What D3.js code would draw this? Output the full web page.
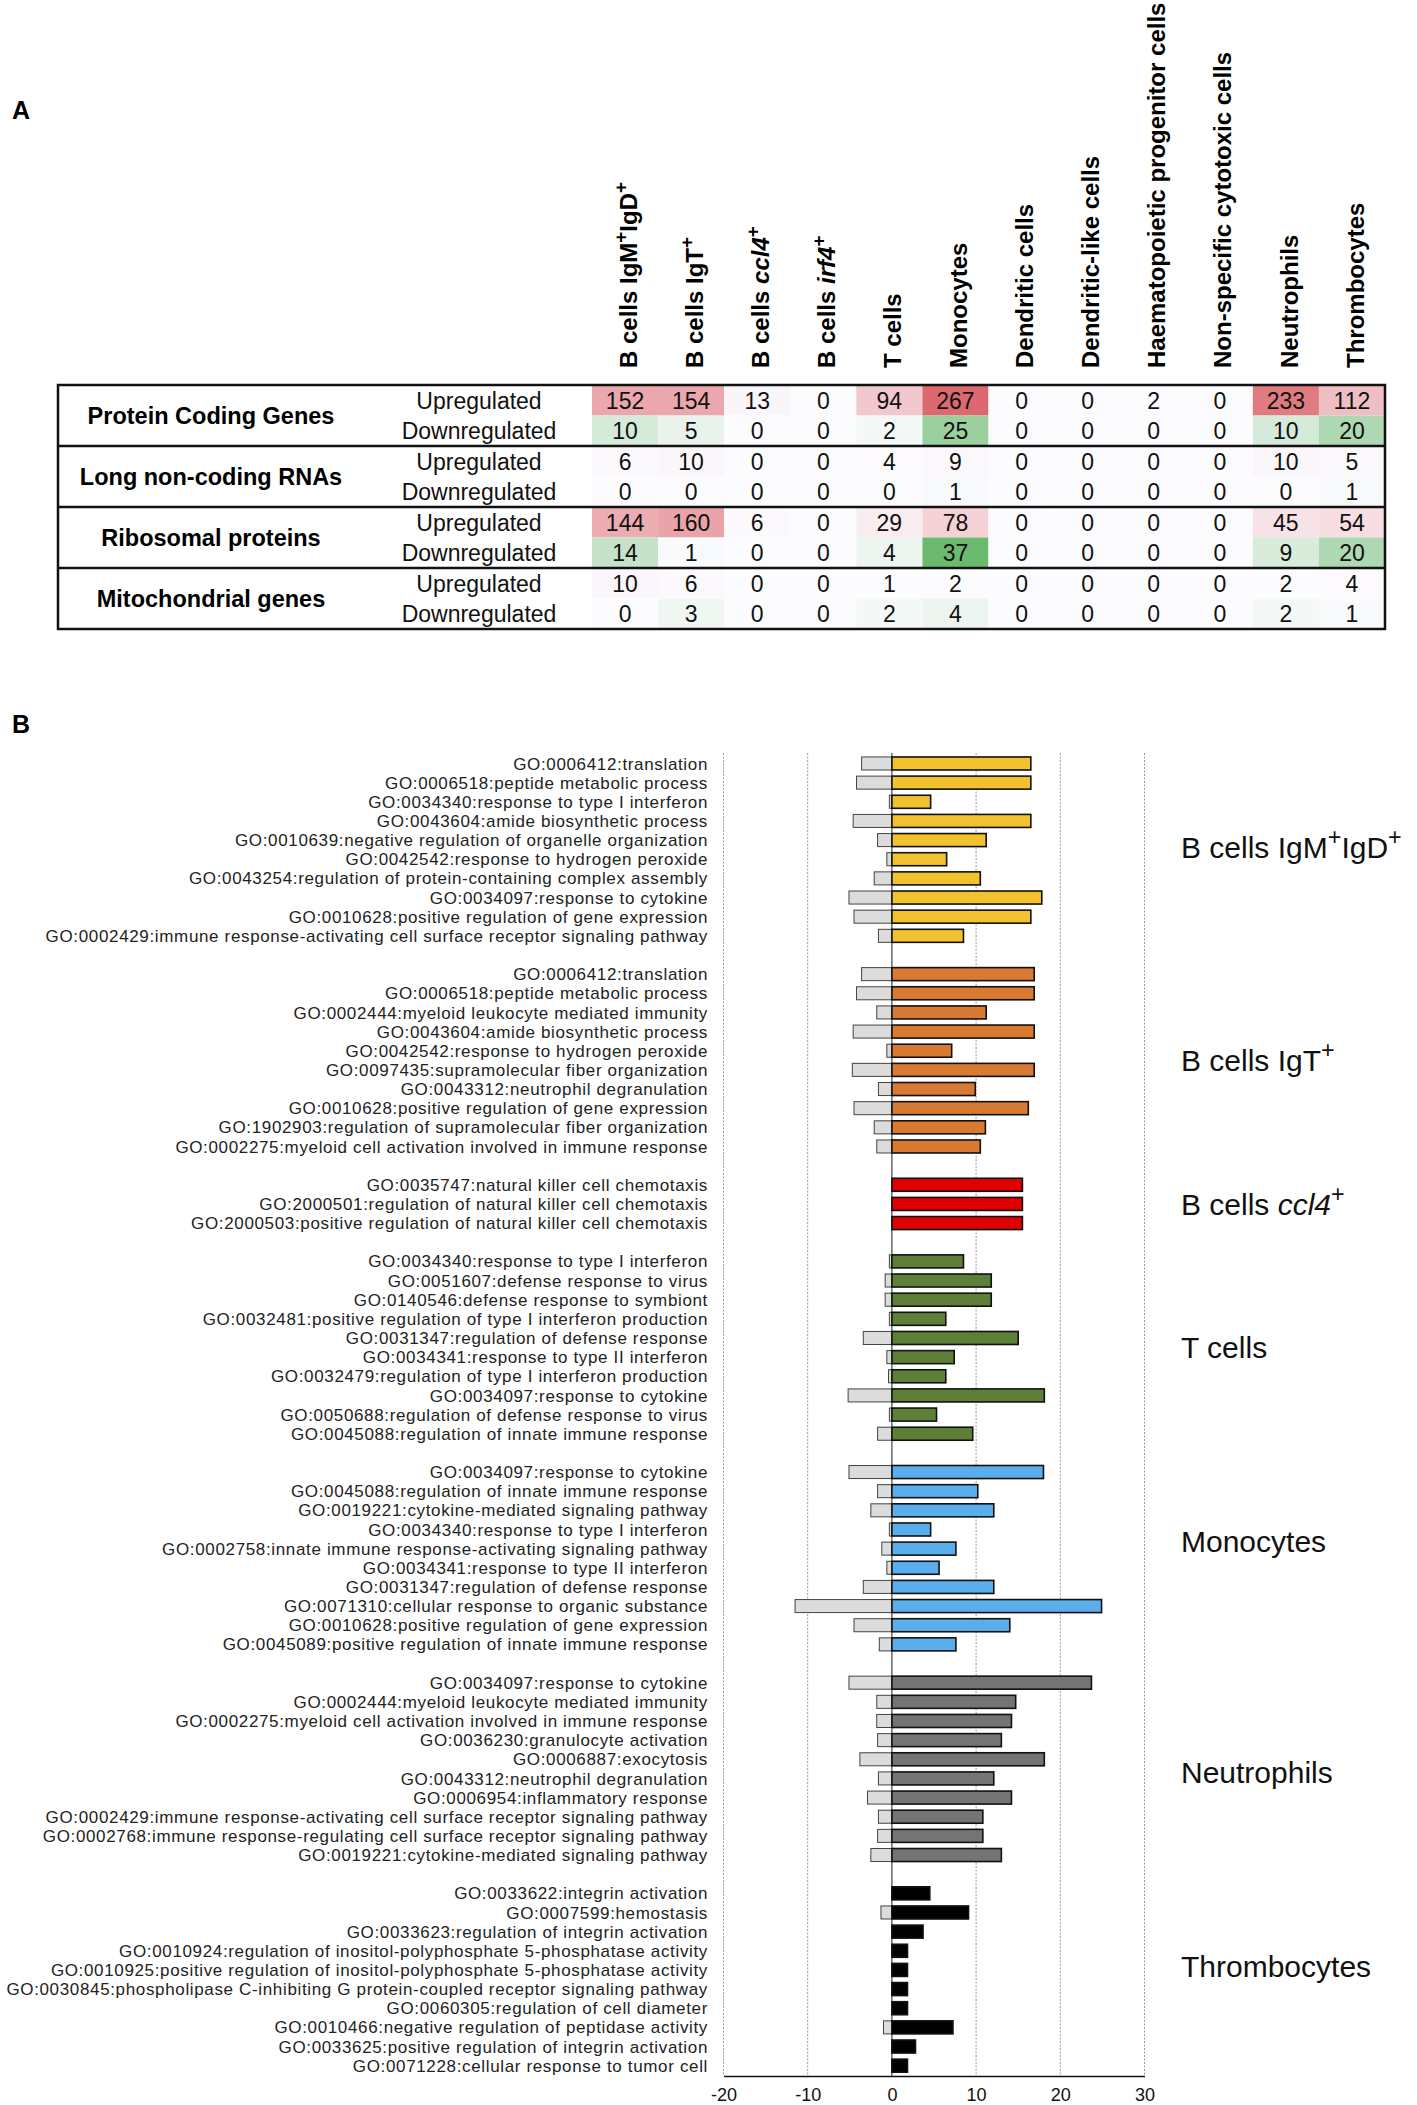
<!DOCTYPE html>
<html>
<head>
<meta charset="utf-8">
<script src="https://cdn.jsdelivr.net/npm/d3@7"></script>
<style>
  body { margin: 0; background: #fff; }
  svg { display: block; font-family: "Liberation Sans", Arial, sans-serif; }
</style>
</head>
<body>
<svg id="chart" width="1417" height="2105"></svg>
<script>
// ---------- Panel A data ----------
const cellTypes = [
  [{ t: "B cells IgM" }, { t: "+", sup: true }, { t: "IgD" }, { t: "+", sup: true }],
  [{ t: "B cells IgT" }, { t: "+", sup: true }],
  [{ t: "B cells " }, { t: "ccl4", it: true }, { t: "+", sup: true }],
  [{ t: "B cells " }, { t: "irf4", it: true }, { t: "+", sup: true }],
  [{ t: "T cells" }],
  [{ t: "Monocytes" }],
  [{ t: "Dendritic cells" }],
  [{ t: "Dendritic-like cells" }],
  [{ t: "Haematopoietic progenitor cells" }],
  [{ t: "Non-specific cytotoxic cells" }],
  [{ t: "Neutrophils" }],
  [{ t: "Thrombocytes" }]
];
const geneClasses = ["Protein Coding Genes", "Long non-coding RNAs", "Ribosomal proteins", "Mitochondrial genes"];
const directions = ["Upregulated", "Downregulated"];

const proteinUp   = [152, 154, 13, 0, 94, 267, 0, 0, 2, 0, 233, 112];
const proteinDown = [10, 5, 0, 0, 2, 25, 0, 0, 0, 0, 10, 20];
const lncUp       = [6, 10, 0, 0, 4, 9, 0, 0, 0, 0, 10, 5];
const lncDown     = [0, 0, 0, 0, 0, 1, 0, 0, 0, 0, 0, 1];
const riboUp      = [144, 160, 6, 0, 29, 78, 0, 0, 0, 0, 45, 54];
const riboDown    = [14, 1, 0, 0, 4, 37, 0, 0, 0, 0, 9, 20];
const mitoUp      = [10, 6, 0, 0, 1, 2, 0, 0, 0, 0, 2, 4];
const mitoDown    = [0, 3, 0, 0, 2, 4, 0, 0, 0, 0, 2, 1];

// ---------- Panel B data ----------
const igmTerms = [
  "GO:0006412:translation",
  "GO:0006518:peptide metabolic process",
  "GO:0034340:response to type I interferon",
  "GO:0043604:amide biosynthetic process",
  "GO:0010639:negative regulation of organelle organization",
  "GO:0042542:response to hydrogen peroxide",
  "GO:0043254:regulation of protein-containing complex assembly",
  "GO:0034097:response to cytokine",
  "GO:0010628:positive regulation of gene expression",
  "GO:0002429:immune response-activating cell surface receptor signaling pathway"
];
const igmUp   = [16.5, 16.5, 4.6, 16.5, 11.2, 6.5, 10.5, 17.8, 16.5, 8.5];
const igmDown = [-3.6, -4.2, -0.3, -4.6, -1.7, -0.6, -2.1, -5.1, -4.5, -1.6];

const igtTerms = [
  "GO:0006412:translation",
  "GO:0006518:peptide metabolic process",
  "GO:0002444:myeloid leukocyte mediated immunity",
  "GO:0043604:amide biosynthetic process",
  "GO:0042542:response to hydrogen peroxide",
  "GO:0097435:supramolecular fiber organization",
  "GO:0043312:neutrophil degranulation",
  "GO:0010628:positive regulation of gene expression",
  "GO:1902903:regulation of supramolecular fiber organization",
  "GO:0002275:myeloid cell activation involved in immune response"
];
const igtUp   = [16.9, 16.9, 11.2, 16.9, 7.1, 16.9, 9.9, 16.2, 11.1, 10.5];
const igtDown = [-3.6, -4.2, -1.8, -4.6, -0.6, -4.7, -1.6, -4.5, -2.1, -1.8];

const ccl4Terms = [
  "GO:0035747:natural killer cell chemotaxis",
  "GO:2000501:regulation of natural killer cell chemotaxis",
  "GO:2000503:positive regulation of natural killer cell chemotaxis"
];
const ccl4Up   = [15.5, 15.5, 15.5];
const ccl4Down = [0, 0, 0];

const tTerms = [
  "GO:0034340:response to type I interferon",
  "GO:0051607:defense response to virus",
  "GO:0140546:defense response to symbiont",
  "GO:0032481:positive regulation of type I interferon production",
  "GO:0031347:regulation of defense response",
  "GO:0034341:response to type II interferon",
  "GO:0032479:regulation of type I interferon production",
  "GO:0034097:response to cytokine",
  "GO:0050688:regulation of defense response to virus",
  "GO:0045088:regulation of innate immune response"
];
const tUp   = [8.5, 11.8, 11.8, 6.4, 15.0, 7.4, 6.4, 18.1, 5.3, 9.6];
const tDown = [-0.3, -0.8, -0.8, -0.3, -3.4, -0.6, -0.4, -5.2, -0.3, -1.7];

const monoTerms = [
  "GO:0034097:response to cytokine",
  "GO:0045088:regulation of innate immune response",
  "GO:0019221:cytokine-mediated signaling pathway",
  "GO:0034340:response to type I interferon",
  "GO:0002758:innate immune response-activating signaling pathway",
  "GO:0034341:response to type II interferon",
  "GO:0031347:regulation of defense response",
  "GO:0071310:cellular response to organic substance",
  "GO:0010628:positive regulation of gene expression",
  "GO:0045089:positive regulation of innate immune response"
];
const monoUp   = [18.0, 10.2, 12.1, 4.6, 7.6, 5.6, 12.1, 24.9, 14.0, 7.6];
const monoDown = [-5.1, -1.7, -2.5, -0.3, -1.2, -0.6, -3.4, -11.5, -4.5, -1.5];

const neutTerms = [
  "GO:0034097:response to cytokine",
  "GO:0002444:myeloid leukocyte mediated immunity",
  "GO:0002275:myeloid cell activation involved in immune response",
  "GO:0036230:granulocyte activation",
  "GO:0006887:exocytosis",
  "GO:0043312:neutrophil degranulation",
  "GO:0006954:inflammatory response",
  "GO:0002429:immune response-activating cell surface receptor signaling pathway",
  "GO:0002768:immune response-regulating cell surface receptor signaling pathway",
  "GO:0019221:cytokine-mediated signaling pathway"
];
const neutUp   = [23.7, 14.7, 14.2, 13.0, 18.1, 12.1, 14.2, 10.8, 10.8, 13.0];
const neutDown = [-5.1, -1.8, -1.8, -1.7, -3.8, -1.6, -2.9, -1.6, -1.7, -2.5];

const thrTerms = [
  "GO:0033622:integrin activation",
  "GO:0007599:hemostasis",
  "GO:0033623:regulation of integrin activation",
  "GO:0010924:regulation of inositol-polyphosphate 5-phosphatase activity",
  "GO:0010925:positive regulation of inositol-polyphosphate 5-phosphatase activity",
  "GO:0030845:phospholipase C-inhibiting G protein-coupled receptor signaling pathway",
  "GO:0060305:regulation of cell diameter",
  "GO:0010466:negative regulation of peptidase activity",
  "GO:0033625:positive regulation of integrin activation",
  "GO:0071228:cellular response to tumor cell"
];
const thrUp   = [4.5, 9.1, 3.7, 1.85, 1.85, 1.85, 1.85, 7.25, 2.8, 1.85];
const thrDown = [0, -1.3, 0, 0, 0, 0, 0, -1.0, 0, 0];

const groupLabels = [
  [{ t: "B cells IgM" }, { t: "+", sup: true }, { t: "IgD" }, { t: "+", sup: true }],
  [{ t: "B cells IgT" }, { t: "+", sup: true }],
  [{ t: "B cells " }, { t: "ccl4", it: true }, { t: "+", sup: true }],
  [{ t: "T cells" }],
  [{ t: "Monocytes" }],
  [{ t: "Neutrophils" }],
  [{ t: "Thrombocytes" }]
];
const groupColours = ["#f2c12e", "#d97a33", "#e00000", "#5e7f38", "#5aaeee", "#747474", "#000000"];
const xTicks = [-20, -10, 0, 10, 20, 30];

// ---------- helpers ----------
const svg = d3.select("#chart");

// write a label made of parts (plain / italic / superscript)
const richText = (sel, parts) => {
  parts.forEach((p) => {
    const ts = sel.append("tspan").text(p.t);
    if (p.it) ts.attr("font-style", "italic");
    if (p.sup) ts.attr("baseline-shift", "super").attr("font-size", "0.78em");
  });
};

// ---------- Panel A : table ----------
svg.append("text").attr("x", 12).attr("y", 119)
  .attr("font-size", 25).attr("font-weight", "bold").text("A");

const tableLeft = 58, tableRight = 1385, tableTop = 385, subRowH = 30.5;
const colX = d3.scaleBand()
  .domain(d3.range(cellTypes.length))
  .range([592, tableRight]);

// column headers
svg.append("g").selectAll("text")
  .data(cellTypes)
  .join("text")
  .attr("transform", (d, i) => `translate(${colX(i) + colX.bandwidth() / 2 + 3},368) rotate(-90)`)
  .attr("dy", "0.36em")
  .attr("font-size", 24)
  .attr("font-weight", "bold")
  .each(function (d) { richText(d3.select(this), d); });

const tableRows = [
  proteinUp, proteinDown, lncUp, lncDown, riboUp, riboDown, mitoUp, mitoDown
];
const upColour = d3.scaleLinear().domain([0, d3.max([proteinUp, lncUp, riboUp, mitoUp].flat())])
  .range(["#fcfcff", "#dc6870"]).interpolate(d3.interpolateRgb);
const downColour = d3.scaleLinear().domain([0, d3.max([proteinDown, lncDown, riboDown, mitoDown].flat())])
  .range(["#fcfcff", "#6cba6f"]).interpolate(d3.interpolateRgb);

const rowY = d3.scaleBand().domain(d3.range(tableRows.length))
  .range([tableTop, tableTop + subRowH * tableRows.length]);

const cells = svg.append("g");
tableRows.forEach((vals, r) => {
  const colour = r % 2 === 0 ? upColour : downColour;
  const row = cells.append("g");
  row.selectAll("rect")
    .data(vals)
    .join("rect")
    .attr("x", (d, i) => colX(i))
    .attr("y", rowY(r))
    .attr("width", colX.bandwidth())
    .attr("height", rowY.bandwidth())
    .attr("fill", (d) => colour(d));
  row.selectAll("text")
    .data(vals)
    .join("text")
    .attr("x", (d, i) => colX(i) + colX.bandwidth() / 2)
    .attr("y", rowY(r) + rowY.bandwidth() / 2)
    .attr("dy", "0.36em")
    .attr("text-anchor", "middle")
    .attr("font-size", 23)
    .attr("fill", "#111")
    .text((d) => d);
  row.append("text")
    .attr("x", 479)
    .attr("y", rowY(r) + rowY.bandwidth() / 2)
    .attr("dy", "0.36em")
    .attr("text-anchor", "middle")
    .attr("font-size", 23)
    .attr("fill", "#111")
    .text(directions[r % 2]);
});

svg.append("g").selectAll("text")
  .data(geneClasses)
  .join("text")
  .attr("x", 211)
  .attr("y", (d, i) => rowY(i * 2) + rowY.bandwidth())
  .attr("dy", "0.36em")
  .attr("text-anchor", "middle")
  .attr("font-size", 23.5)
  .attr("font-weight", "bold")
  .text((d) => d);

// borders
const tableBottom = tableTop + subRowH * tableRows.length;
svg.append("rect")
  .attr("x", tableLeft).attr("y", tableTop)
  .attr("width", tableRight - tableLeft).attr("height", tableBottom - tableTop)
  .attr("fill", "none").attr("stroke", "#111").attr("stroke-width", 2.5);
svg.append("g").selectAll("line")
  .data([2, 4, 6])
  .join("line")
  .attr("x1", tableLeft).attr("x2", tableRight)
  .attr("y1", (d) => rowY(d)).attr("y2", (d) => rowY(d))
  .attr("stroke", "#111").attr("stroke-width", 2.5);

// ---------- Panel B : GO bars ----------
svg.append("text").attr("x", 12).attr("y", 733)
  .attr("font-size", 25).attr("font-weight", "bold").text("B");

const goGroups = [
  { terms: igmTerms, up: igmUp, down: igmDown },
  { terms: igtTerms, up: igtUp, down: igtDown },
  { terms: ccl4Terms, up: ccl4Up, down: ccl4Down },
  { terms: tTerms, up: tUp, down: tDown },
  { terms: monoTerms, up: monoUp, down: monoDown },
  { terms: neutTerms, up: neutUp, down: neutDown },
  { terms: thrTerms, up: thrUp, down: thrDown }
];
// small vertical nudges of the right-hand labels, as placed in the figure
const labelNudge = [-2, 0, 0, 0, -17, 3, -13];

// one band per row, a blank band between groups
const rows = [];
const rowKeys = [];
goGroups.forEach((g, gi) => {
  g.terms.forEach((term, i) => {
    const key = `${gi}-${i}`;
    rows.push({ key, term, up: g.up[i], down: g.down[i], group: gi });
    rowKeys.push(key);
  });
  if (gi < goGroups.length - 1) rowKeys.push(`gap-${gi}`);
});

const barTop = 753.9, rowStep = 19.15;
const y = d3.scaleBand()
  .domain(rowKeys)
  .range([barTop, barTop + rowStep * rowKeys.length])
  .paddingInner(0.32)
  .paddingOuter(0.16);

const x = d3.scaleLinear().domain([-20, 30]).range([723.5, 1144.5]);
const axisY = 2076;

// grid
svg.append("g").selectAll("line")
  .data(xTicks.filter((d) => d !== 0))
  .join("line")
  .attr("x1", (d) => x(d)).attr("x2", (d) => x(d))
  .attr("y1", 753).attr("y2", axisY)
  .attr("stroke", "#9a9a9a").attr("stroke-width", 1)
  .attr("stroke-dasharray", "2,1.5");
svg.append("line")
  .attr("x1", x(0)).attr("x2", x(0))
  .attr("y1", 753).attr("y2", axisY)
  .attr("stroke", "#444").attr("stroke-width", 1.2);

const bars = svg.append("g");
bars.selectAll(".down")
  .data(rows.filter((d) => d.down < 0))
  .join("rect")
  .attr("class", "down")
  .attr("x", (d) => x(d.down))
  .attr("y", (d) => y(d.key))
  .attr("width", (d) => x(0) - x(d.down))
  .attr("height", y.bandwidth())
  .attr("fill", "#dcdcdc")
  .attr("stroke", "#444")
  .attr("stroke-width", 1);
bars.selectAll(".up")
  .data(rows)
  .join("rect")
  .attr("class", "up")
  .attr("x", x(0))
  .attr("y", (d) => y(d.key))
  .attr("width", (d) => x(d.up) - x(0))
  .attr("height", y.bandwidth())
  .attr("fill", (d) => groupColours[d.group])
  .attr("stroke", "#111")
  .attr("stroke-width", 1.6);

// GO term labels
svg.append("g").selectAll("text")
  .data(rows)
  .join("text")
  .attr("x", 708)
  .attr("y", (d) => y(d.key) + y.bandwidth() / 2)
  .attr("dy", "0.36em")
  .attr("text-anchor", "end")
  .attr("font-size", 17)
  .attr("letter-spacing", 0.65)
  .attr("fill", "#222")
  .text((d) => d.term);

// group labels on the right
svg.append("g").selectAll("text")
  .data(goGroups)
  .join("text")
  .attr("x", 1181)
  .attr("y", (d, gi) => {
    const first = y(`${gi}-0`);
    const last = y(`${gi}-${d.terms.length - 1}`) + y.bandwidth();
    return (first + last) / 2 + labelNudge[gi];
  })
  .attr("dy", "0.36em")
  .attr("font-size", 30)
  .attr("fill", "#111")
  .each(function (d, gi) { richText(d3.select(this), groupLabels[gi]); });

// x axis
const xAxis = svg.append("g")
  .attr("transform", `translate(0,${axisY})`)
  .call(d3.axisBottom(x).tickValues(xTicks).tickSize(0).tickPadding(12)
    .tickFormat((d) => String(d)));
xAxis.select(".domain").attr("stroke", "#111").attr("stroke-width", 1.5);
xAxis.selectAll("text")
  .attr("font-size", 18)
  .attr("font-family", "Liberation Sans, Arial, sans-serif")
  .attr("fill", "#111");
</script>
</body>
</html>
